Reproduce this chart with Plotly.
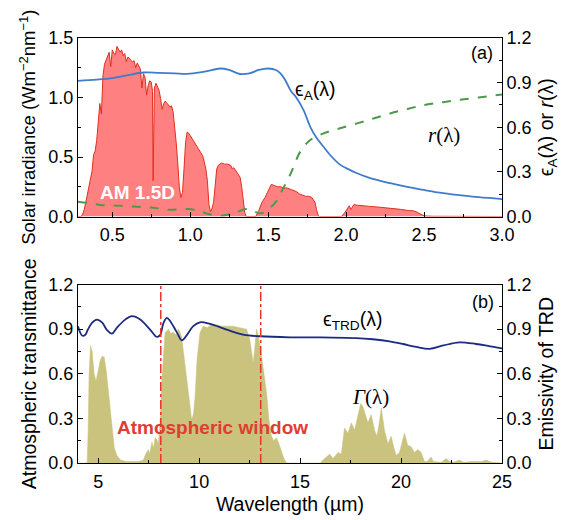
import plotly.graph_objects as go

# ---------- Panel (a) data ----------
am15d_wl = [0.28, 0.30, 0.31, 0.32, 0.33, 0.34, 0.35, 0.36, 0.37, 0.38, 0.39, 0.40, 0.41, 0.42, 0.43,
            0.44, 0.45, 0.46, 0.47, 0.48, 0.49, 0.50, 0.51, 0.52, 0.53, 0.54, 0.55, 0.56, 0.57, 0.58,
            0.59, 0.60, 0.61, 0.62, 0.63, 0.64, 0.65, 0.66, 0.67, 0.68, 0.69, 0.70, 0.71, 0.72, 0.73,
            0.74, 0.75, 0.758, 0.762, 0.768, 0.77, 0.78, 0.79, 0.80, 0.81, 0.82, 0.83, 0.84, 0.85,
            0.86, 0.87, 0.88, 0.89, 0.90, 0.91, 0.92, 0.93, 0.94, 0.95, 0.96, 0.97, 0.98, 0.99, 1.00,
            1.02, 1.04, 1.06, 1.08, 1.09, 1.10, 1.11, 1.12, 1.13, 1.14, 1.15, 1.16, 1.17, 1.18, 1.20,
            1.22, 1.24, 1.26, 1.27, 1.28, 1.30, 1.32, 1.33, 1.34, 1.35, 1.36, 1.42, 1.44, 1.46, 1.48,
            1.50, 1.52, 1.54, 1.56, 1.58, 1.60, 1.62, 1.64, 1.66, 1.68, 1.70, 1.72, 1.74, 1.76, 1.78,
            1.79, 1.80, 1.81, 1.82, 1.83, 1.97, 1.99, 2.00, 2.02, 2.03, 2.05, 2.07, 2.10, 2.15, 2.20,
            2.25, 2.30, 2.35, 2.40, 2.43, 2.45, 2.48, 2.50, 2.55, 2.90, 3.00]
am15d_irr = [0.00, 0.00, 0.02, 0.06, 0.12, 0.19, 0.25, 0.30, 0.38, 0.52, 0.55, 0.64, 0.82, 0.95, 0.86,
             1.18, 1.28, 1.32, 1.34, 1.38, 1.26, 1.40, 1.37, 1.36, 1.43, 1.41, 1.38, 1.40, 1.35, 1.37,
             1.30, 1.34, 1.33, 1.31, 1.30, 1.31, 1.25, 1.29, 1.27, 1.24, 1.08, 1.20, 1.17, 1.02, 1.10,
             1.14, 1.13, 1.05, 0.30, 0.75, 1.08, 1.12, 1.09, 1.06, 0.99, 0.90, 0.95, 0.97, 0.95,
             0.94, 0.92, 0.93, 0.88, 0.76, 0.62, 0.45, 0.25, 0.16, 0.20, 0.40, 0.62, 0.71, 0.70, 0.68,
             0.64, 0.60, 0.56, 0.51, 0.46, 0.40, 0.30, 0.10, 0.04, 0.07, 0.12, 0.30, 0.40, 0.43, 0.45,
             0.44, 0.44, 0.43, 0.40, 0.41, 0.37, 0.33, 0.25, 0.12, 0.03, 0.00, 0.00, 0.05, 0.12, 0.16,
             0.21, 0.27, 0.26, 0.25, 0.25, 0.24, 0.24, 0.23, 0.22, 0.21, 0.19, 0.18, 0.17, 0.17, 0.16,
             0.14, 0.12, 0.06, 0.01, 0.00, 0.00, 0.03, 0.05, 0.09, 0.06, 0.10, 0.095, 0.09, 0.085, 0.08,
             0.075, 0.068, 0.06, 0.05, 0.048, 0.04, 0.02, 0.005, 0.002, 0.00, 0.00]

epsA_wl = [0.28, 0.40, 0.50, 0.60, 0.70, 0.80, 0.90, 1.00, 1.10, 1.19, 1.25, 1.32, 1.38, 1.44, 1.50,
           1.55, 1.58, 1.61, 1.645, 1.68, 1.727, 1.77, 1.81, 1.855, 1.90, 1.963, 2.02, 2.07, 2.15,
           2.283, 2.40, 2.497, 2.60, 2.71, 2.85, 3.00]
epsA = [0.912, 0.920, 0.930, 0.950, 0.968, 0.966, 0.962, 0.960, 0.975, 0.995, 0.985, 0.958, 0.962,
        0.985, 0.995, 0.985, 0.960, 0.916, 0.845, 0.800, 0.715, 0.603, 0.530, 0.469, 0.410, 0.347,
        0.315, 0.291, 0.260, 0.224, 0.197, 0.179, 0.160, 0.145, 0.130, 0.117]

r_wl = [0.28, 0.35, 0.42, 0.50, 0.64, 0.75, 0.86, 0.98, 1.05, 1.10, 1.19, 1.28, 1.36, 1.40, 1.45,
        1.51, 1.55, 1.58, 1.645, 1.706, 1.77, 1.855, 1.95, 2.07, 2.18, 2.283, 2.40, 2.497, 2.60,
        2.71, 2.85, 3.00]
r_val = [0.100, 0.090, 0.078, 0.075, 0.067, 0.060, 0.045, 0.050, 0.040, 0.022, 0.005, 0.022, 0.050,
         0.040, 0.020, 0.056, 0.100, 0.157, 0.290, 0.436, 0.514, 0.559, 0.590, 0.626, 0.660, 0.693,
         0.725, 0.749, 0.765, 0.782, 0.800, 0.820]

# ---------- Panel (b) data ----------
trans_wl = [4.0, 4.45, 4.5, 4.55, 4.62, 4.7, 4.8, 4.89, 5.0, 5.1, 5.2, 5.3, 5.4, 5.5, 5.6, 5.7, 5.8,
            5.93, 6.1, 6.4, 7.0, 7.24, 7.35, 7.49, 7.55, 7.66, 7.74, 7.82, 7.9, 7.98, 8.08, 8.15,
            8.25, 8.31, 8.48, 8.6, 8.72, 8.85, 8.97, 9.05, 9.14, 9.25, 9.39, 9.5, 9.63, 9.72, 9.8,
            9.9, 10.04, 10.2, 10.4, 10.6, 10.87, 11.1, 11.4, 11.69, 12.0, 12.35, 12.51, 12.68, 12.76,
            12.84, 12.92, 13.0, 13.17, 13.34, 13.45, 13.58, 13.7, 13.83, 13.95, 14.08, 14.2, 14.33,
            16.0, 16.13, 16.3, 16.47, 16.63, 16.88, 17.04, 17.2, 17.37, 17.54, 17.7, 17.87, 18.0,
            18.11, 18.25, 18.36, 18.52, 18.69, 18.8, 18.9, 19.02, 19.18, 19.35, 19.51, 19.65, 19.76,
            19.92, 20.17, 20.33, 20.5, 20.66, 20.83, 21.0, 21.16, 21.3, 21.49, 21.6, 21.74, 22.0,
            22.23, 22.4, 22.6, 22.89, 23.1, 23.5, 24.0, 24.2, 24.5, 25.0]
trans = [0.00, 0.00, 0.20, 0.60, 0.79, 0.75, 0.60, 0.55, 0.62, 0.69, 0.72, 0.71, 0.62, 0.48, 0.36,
         0.20, 0.10, 0.05, 0.02, 0.01, 0.01, 0.02, 0.06, 0.09, 0.06, 0.14, 0.10, 0.17, 0.16, 0.13,
         0.30, 0.55, 0.80, 0.875, 0.90, 0.87, 0.88, 0.86, 0.90, 0.88, 0.84, 0.72, 0.58, 0.45, 0.29,
         0.33, 0.45, 0.70, 0.875, 0.92, 0.91, 0.93, 0.93, 0.92, 0.92, 0.92, 0.91, 0.90, 0.83, 0.67,
         0.78, 0.90, 0.86, 0.80, 0.64, 0.47, 0.30, 0.18, 0.15, 0.17, 0.13, 0.08, 0.03, 0.00,
         0.00, 0.02, 0.04, 0.06, 0.03, 0.07, 0.06, 0.235, 0.20, 0.27, 0.22, 0.33, 0.40,
         0.38, 0.32, 0.27, 0.325, 0.22, 0.18, 0.25, 0.37, 0.22, 0.13, 0.18, 0.10, 0.05,
         0.07, 0.20, 0.12, 0.11, 0.07, 0.09, 0.07, 0.01, 0.01, 0.04, 0.01, 0.01, 0.005,
         0.03, 0.01, 0.005, 0.02, 0.005, 0.01, 0.01, 0.02, 0.005, 0.00]

epsTRD_wl = [4.0, 4.1, 4.2, 4.35, 4.5, 4.69, 4.94, 5.19, 5.43, 5.68, 5.93, 6.34, 6.67, 7.08, 7.57,
             7.9, 8.07, 8.23, 8.4, 8.56, 8.89, 9.14, 9.39, 9.71, 10.04, 10.54, 11.36, 12.18, 13.0,
             14.49, 16.0, 17.78, 18.6, 19.43, 20.1, 20.75, 21.41, 22.1, 22.89, 23.71, 24.3, 25.0]
epsTRD = [0.920, 0.880, 0.857, 0.860, 0.900, 0.942, 0.964, 0.945, 0.895, 0.870, 0.910, 0.964, 0.987,
          0.965, 0.897, 0.848, 0.860, 0.940, 0.976, 0.955, 0.880, 0.825, 0.860, 0.920, 0.946, 0.935,
          0.897, 0.863, 0.852, 0.845, 0.845, 0.840, 0.832, 0.818, 0.800, 0.780, 0.767, 0.790, 0.811,
          0.800, 0.787, 0.770]

window_edges = [8.1, 13.05]

FONT = "Liberation Sans, Arial, sans-serif"
SERIF = "Liberation Serif, Times New Roman, serif"

fig = go.Figure()

# Panel (a)
fig.add_trace(go.Scatter(x=am15d_wl, y=am15d_irr, mode="lines", fill="tozeroy",
                         line=dict(color="#E0301E", width=1), fillcolor="#FF8080",
                         xaxis="x", yaxis="y", showlegend=False))
fig.add_trace(go.Scatter(x=epsA_wl, y=epsA, mode="lines", line=dict(color="#3F7CCB", width=1.8, shape="spline"),
                         xaxis="x", yaxis="y3", showlegend=False))
fig.add_trace(go.Scatter(x=r_wl, y=r_val, mode="lines",
                         line=dict(color="#4A9A4A", width=2, dash="dash", shape="spline"),
                         xaxis="x", yaxis="y3", showlegend=False))

# Panel (b)
fig.add_trace(go.Scatter(x=trans_wl, y=trans, mode="lines", fill="tozeroy",
                         line=dict(color="#C9C37E", width=0.5), fillcolor="#C9C37E",
                         xaxis="x2", yaxis="y2", showlegend=False))
fig.add_trace(go.Scatter(x=epsTRD_wl, y=epsTRD, mode="lines", line=dict(color="#1E2A80", width=1.8, shape="spline"),
                         xaxis="x2", yaxis="y4", showlegend=False))

for xe in window_edges:
    fig.add_shape(type="line", xref="x2", yref="y2 domain", x0=xe, x1=xe, y0=0, y1=1,
                  line=dict(color="#E8352A", width=1.5, dash="dashdot"))

tickfont = dict(family=FONT, size=18, color="black")
titlefont = dict(family=FONT, size=19.5, color="black")
common = dict(showline=True, linecolor="black", linewidth=1, ticks="inside", ticklen=5,
              tickcolor="black", showgrid=False, zeroline=False, tickfont=tickfont, automargin=False)

# page body has an 8px offset; layout numbers are in figure pixels
W, H = 579, 520
L, T, R, B = 70, 30, 84.5, 64.7

fig.update_layout(
    width=W, height=H,
    margin=dict(l=L, r=R, t=T, b=B),
    plot_bgcolor="white", paper_bgcolor="white",
    font=dict(family=FONT, color="black"),
    xaxis=dict(domain=[0, 1], anchor="y", range=[0.28, 3.0], tick0=0, dtick=0.5, tickformat=".1f",
               mirror=True, minor=dict(dtick=0.25, ticks="inside", ticklen=3, tickcolor="black"),
               ticklabelstandoff=2, **common),
    yaxis=dict(domain=[0.58, 1], anchor="x", range=[0, 1.5], tick0=0, dtick=0.5, tickformat=".1f",
               mirror=True, minor=dict(dtick=0.25, ticks="inside", ticklen=3, tickcolor="black"),
               title=dict(text="Solar irradiance (Wm<sup>−2</sup>nm<sup>−1</sup>)",
                          font=dict(family=FONT, size=18.5, color="black"), standoff=7),
               **common),
    yaxis3=dict(overlaying="y", side="right", anchor="x", range=[0, 1.2], tick0=0, dtick=0.3,
                tickformat=".1f", minor=dict(dtick=0.15, ticks="inside", ticklen=3, tickcolor="black"),
                title=dict(text="ϵ<sub>A</sub>(λ) or <i>r</i>(λ)", font=titlefont, standoff=8),
                **common),
    xaxis2=dict(domain=[0, 1], anchor="y2", range=[4, 25], tick0=0, dtick=5, mirror=True,
                minor=dict(dtick=2.5, ticks="inside", ticklen=3, tickcolor="black"),
                ticklabelstandoff=2,
                title=dict(text="Wavelength (µm)", font=titlefont, standoff=6),
                **common),
    yaxis2=dict(domain=[0, 0.42], anchor="x2", range=[0, 1.2], tick0=0, dtick=0.3, tickformat=".1f",
                mirror=True, minor=dict(dtick=0.15, ticks="inside", ticklen=3, tickcolor="black"),
                title=dict(text="Atmospheric transmittance", font=titlefont, standoff=6),
                **common),
    yaxis4=dict(overlaying="y2", side="right", anchor="x2", range=[0, 1.2], tick0=0, dtick=0.3,
                tickformat=".1f", minor=dict(dtick=0.15, ticks="inside", ticklen=3, tickcolor="black"),
                title=dict(text="Emissivity of TRD", font=titlefont, standoff=8),
                **common),
)

# annotation positions (screen pixels of the photographed page)
ann = [
    dict(text="(a)", x=482, y=53, font=dict(family=FONT, size=18, color="black")),
    dict(text="ϵ<sub>A</sub>(λ)", x=315, y=91, font=dict(family=FONT, size=19.5, color="black")),
    dict(text="<i>r</i>(λ)", x=444, y=135, font=dict(family=SERIF, size=21, color="black")),
    dict(text="<b>AM 1.5D</b>", x=138, y=193, font=dict(family=FONT, size=19, color="white")),
    dict(text="(b)", x=483, y=302, font=dict(family=FONT, size=18, color="black")),
    dict(text="ϵ<sub>TRD</sub>(λ)", x=353, y=321, font=dict(family=FONT, size=19.5, color="black")),
    dict(text="<i>Γ</i>(λ)", x=371, y=397, font=dict(family=SERIF, size=21, color="black")),
    dict(text="<b>Atmospheric window</b>", x=213, y=428, font=dict(family=FONT, size=19, color="#E03C31")),
]
OFF = 8
for a in ann:
    fx, fy = a["x"] - OFF, a["y"] - OFF
    fig.add_annotation(text=a["text"], x=(fx - L) / (W - L - R), y=(H - B - fy) / (H - T - B),
                       xref="paper", yref="paper", xanchor="center", yanchor="middle",
                       showarrow=False, font=a["font"])

fig.write_html("out.html")
